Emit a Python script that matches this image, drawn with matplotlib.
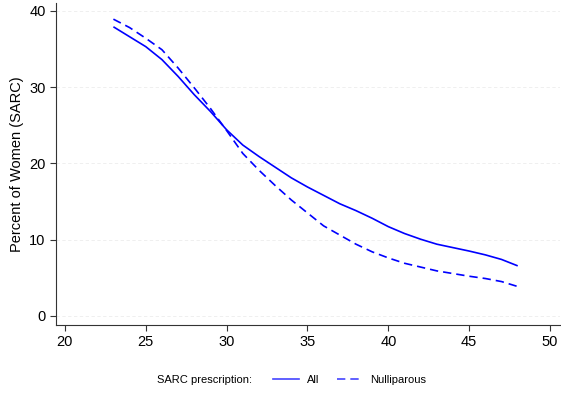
import matplotlib
matplotlib.use("Agg")
import matplotlib.pyplot as plt
from matplotlib.lines import Line2D

plt.rcParams['font.family'] = ['Liberation Sans', 'DejaVu Sans']

age = [23, 24, 25, 26, 27, 28, 29, 30, 31, 32, 33, 34, 35, 36, 37, 38, 39, 40, 41, 42, 43, 44, 45, 46, 47, 48]
all_women = [37.9, 36.6, 35.3, 33.6, 31.4, 29.0, 26.8, 24.4, 22.4, 20.9, 19.5, 18.1, 16.9, 15.8, 14.7, 13.8, 12.8, 11.7, 10.8, 10.05, 9.4, 8.95, 8.5, 8.0, 7.4, 6.56]
nulliparous = [38.9, 37.8, 36.4, 34.9, 32.5, 29.9, 27.2, 24.3, 21.3, 19.1, 17.1, 15.2, 13.5, 11.8, 10.6, 9.4, 8.4, 7.6, 6.9, 6.4, 5.9, 5.55, 5.2, 4.9, 4.5, 3.85]
xticks = [20, 25, 30, 35, 40, 45, 50]
yticks = [0, 10, 20, 30, 40]

fig = plt.figure(figsize=(5.61, 3.94), dpi=100)
ax = fig.add_axes([0.0998, 0.175, 0.898, 0.817])

for y in yticks:
    ax.axhline(y, color='#ececec', lw=0.6, ls=(0, (4, 3)), zorder=0)

ax.plot(age, all_women, color='#0000ff', lw=1.2, solid_capstyle='butt')
ax.plot(age, nulliparous, color='#0000ff', lw=1.2, ls=(0, (5, 3)))

ax.set_xlim(19.45, 50.6)
ax.set_ylim(-1.2, 41.0)
ax.set_xticks(xticks)
ax.set_yticks(yticks)
ax.tick_params(axis='both', direction='out', length=4, width=0.8, labelsize=10.5, color='#333333')
ax.spines['top'].set_visible(False)
ax.spines['right'].set_visible(False)
for s in ['left', 'bottom']:
    ax.spines[s].set_linewidth(0.8)
    ax.spines[s].set_color('#333333')
ax.set_ylabel('Percent of Women (SARC)', fontsize=10.5)

fig.text(0.28, 0.035, 'SARC prescription:', fontsize=8, va='center', ha='left')
handles = [Line2D([], [], color='#4444ff', lw=1.2),
           Line2D([], [], color='#4444ff', lw=1.2, ls=(0, (5, 3)))]
fig.legend(handles, ['All', 'Nulliparous'], ncol=2, loc='center left',
           bbox_to_anchor=(0.487, 0.035), frameon=False, fontsize=8,
           borderpad=0, borderaxespad=0,
           handlelength=2.3, handletextpad=0.7, columnspacing=1.6)

fig.savefig('out.png', dpi=100)
